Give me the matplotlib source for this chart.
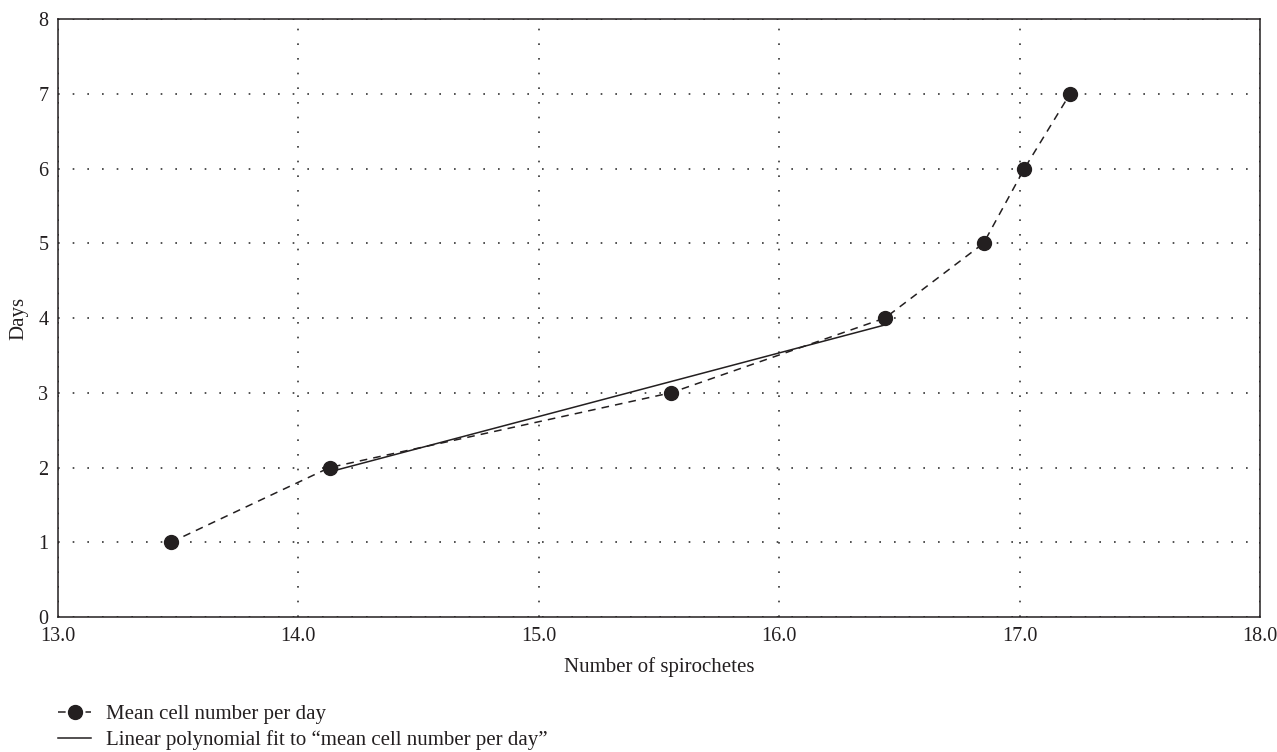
import matplotlib.pyplot as plt
import numpy as np

plt.rcParams['font.family'] = ['Liberation Serif', 'DejaVu Serif']

# data
spirochetes = [13.47, 14.13, 15.55, 16.44, 16.85, 17.02, 17.21]
days = [1, 2, 3, 4, 5, 6, 7]
fit_idx = [1, 2, 3]  # points used for the linear fit
x_ticks = [13.0, 14.0, 15.0, 16.0, 17.0, 18.0]
y_ticks = [0, 1, 2, 3, 4, 5, 6, 7, 8]

ink = '#231f20'

fig = plt.figure(figsize=(12.77, 7.52), dpi=100)
ax = fig.add_axes([0.0454, 0.1795, 0.9413, 0.7952])

ax.plot(spirochetes, days, color=ink, linestyle=(0, (5, 4)), linewidth=1.1,
        marker='o', markersize=10, label='Mean cell number per day', zorder=3)

fx = np.array([spirochetes[i] for i in fit_idx])
fy = np.array([days[i] for i in fit_idx])
k, b = np.polyfit(fx, fy, 1)
ax.plot(fx[[0, -1]], k * fx[[0, -1]] + b, color=ink, linewidth=1.1,
        label='Linear polynomial fit to \u201cmean cell number per day\u201d', zorder=2)

ax.set_xlim(13, 18)
ax.set_ylim(0, 8)
ax.set_xticks(x_ticks)
ax.set_xticklabels(['%.1f' % v for v in x_ticks])
ax.set_yticks(y_ticks)
ax.tick_params(length=0, labelsize=14.5, pad=7, colors=ink)
ax.grid(True, color='#333333', linestyle=(0, (1, 7.8)), linewidth=1.2)
for s in ax.spines.values():
    s.set_linewidth(1.1)
    s.set_color(ink)

ax.set_xlabel('Number of spirochetes', fontsize=15, labelpad=8, color=ink)
ax.set_ylabel('Days', fontsize=15, labelpad=7, color=ink)

fig.legend(loc='upper left', bbox_to_anchor=(0.0454, 0.063), frameon=False,
           fontsize=15, handlelength=1.6, labelspacing=0.3, handletextpad=0.7,
           borderpad=0, borderaxespad=0, labelcolor=ink)

fig.savefig('out.png', dpi=100)
